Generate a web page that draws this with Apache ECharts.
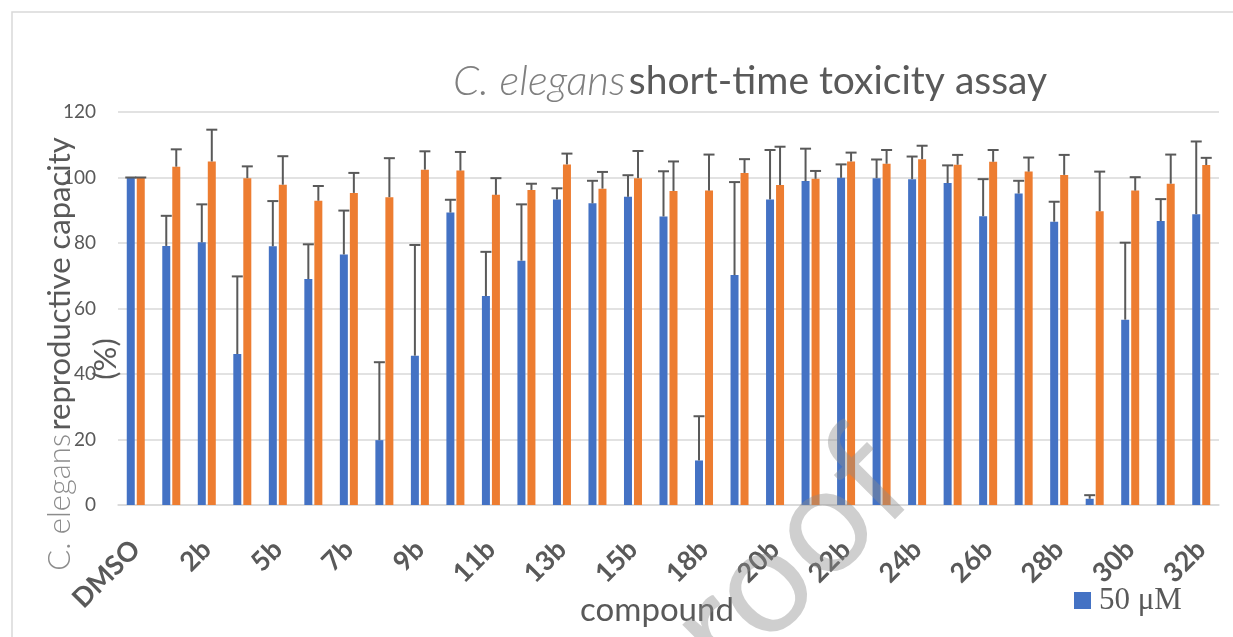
<!DOCTYPE html>
<html><head><meta charset="utf-8">
<script src="https://cdn.jsdelivr.net/npm/echarts@6/dist/echarts.min.js"></script>
<style>html,body{margin:0;padding:0;background:#fff}#c{width:1233px;height:637px}</style>
</head><body><div id="c"></div>
<script>
const categories = ['DMSO','1b','2b','4b','5b','6b','7b','8b','9b','10b','11b','12b','13b','14b','15b','16b','18b','19b','20b','21b','22b','23b','24b','25b','26b','27b','28b','29b','30b','31b','32b'];
const seriesNames = ['50 μM', '100 μM'];
const blue = [100, 79.1, 80.2, 46.1, 79.0, 69.0, 76.5, 19.8, 45.6, 89.3, 63.8, 74.6, 93.3, 92.1, 94.1, 88.1, 13.6, 70.2, 93.3, 98.9, 99.9, 99.8, 99.5, 98.3, 88.2, 95.1, 86.5, 1.9, 56.6, 86.7, 88.8];
const blueErr = [0, 9.2, 11.6, 23.7, 13.8, 10.6, 13.4, 23.8, 33.8, 3.9, 13.5, 17.2, 3.4, 6.9, 6.6, 13.8, 13.5, 28.4, 15.1, 9.9, 4.1, 5.7, 6.9, 5.4, 11.3, 3.9, 6.1, 1.1, 23.5, 6.7, 22.2];
const orange = [100, 103.3, 104.9, 99.8, 97.8, 92.9, 95.3, 94.0, 102.4, 102.1, 94.7, 96.2, 104.0, 96.6, 99.8, 95.9, 96.0, 101.4, 97.7, 99.6, 104.9, 104.2, 105.6, 103.9, 104.8, 101.8, 100.8, 89.7, 96.0, 98.1, 103.8];
const orangeErr = [0, 5.3, 9.7, 3.6, 8.7, 4.5, 6.1, 11.9, 5.6, 5.7, 5.1, 1.9, 3.3, 5.1, 8.3, 9.0, 11.0, 4.2, 11.7, 2.4, 2.7, 4.2, 4.1, 3.0, 3.6, 4.3, 6.1, 12.1, 4.1, 8.9, 2.2];
const yMin = 0, yMax = 120, yStep = 20;
const titleItalic = 'C. elegans';
const titleRest = 'short-time toxicity assay';
const yNameItalic = 'C. elegans';
const yNameRest = 'reproductive capacity';
const yNameLine2 = '(%)';
const xName = 'compound';
const watermark = 'Journal Pre-proof';

const colors = ['#4472C4', '#ED7D31'];
const BAR_W = 8, OFFSET = 5;

function errSeries(vals, errs, off) {
  return {
    type: 'custom',
    coordinateSystem: 'cartesian2d',
    encode: { x: 0, y: 1 },
    z: 5,
    silent: true,
    data: categories.map((c, i) => [i, vals[i], errs[i]]),
    renderItem: function (params, api) {
      const i = api.value(0), v = api.value(1), e = api.value(2);
      const p0 = api.coord([i, v]);
      const p1 = api.coord([i, v + e]);
      const cx = p0[0] + off;
      const st = { stroke: '#595959', lineWidth: 2 };
      return { type: 'group', children: [
        { type: 'line', shape: { x1: cx, y1: p0[1], x2: cx, y2: p1[1] }, style: st },
        { type: 'line', shape: { x1: cx - 5.5, y1: p1[1], x2: cx + 5.5, y2: p1[1] }, style: st }
      ]};
    }
  };
}

const chart = echarts.init(document.getElementById('c'), null, { renderer: 'canvas' });
chart.setOption({
  backgroundColor: '#fff',
  animation: false,
  grid: { left: 118, right: 14, top: 112, bottom: 132, containLabel: false },
  legend: {
    data: [seriesNames[0]],
    left: 1074, top: 585, padding: 0,
    itemWidth: 17, itemHeight: 17,
    icon: 'rect',
    textStyle: { fontFamily: 'Liberation Serif', fontSize: 31, color: '#595959', padding: [0, 0, 0, 3] }
  },
  xAxis: {
    type: 'category',
    data: categories,
    axisLine: { show: true, lineStyle: { color: '#d9d9d9', width: 1.5 } },
    axisTick: { show: false },
    axisLabel: {
      interval: 1, rotate: 45, margin: 40,
      fontFamily: 'Lato', fontWeight: 'bold', fontSize: 27, color: '#595959'
    }
  },
  yAxis: {
    type: 'value', min: yMin, max: yMax, interval: yStep,
    axisLine: { show: false }, axisTick: { show: false },
    splitLine: { lineStyle: { color: '#d9d9d9', width: 1.5 } },
    axisLabel: { fontFamily: 'Lato', fontSize: 19, color: '#595959', margin: 22 }
  },
  series: [
    { name: seriesNames[0], type: 'bar', data: blue, barWidth: BAR_W, barGap: '25%', itemStyle: { color: colors[0] } },
    { name: seriesNames[1], type: 'bar', data: orange, barWidth: BAR_W, barGap: '25%', itemStyle: { color: colors[1] } },
    errSeries(blue, blueErr, -OFFSET),
    errSeries(orange, orangeErr, OFFSET)
  ],
  graphic: [
    { type: 'rect', shape: { x: 12, y: 12, width: 1400, height: 800 }, style: { fill: 'none', stroke: '#d9d9d9', lineWidth: 1.5 }, z: 0 },
    { type: 'text', x: 750, y: 81, z: 10,
      style: { text: '{a|' + titleItalic + '} {b|' + titleRest + '}', align: 'center', verticalAlign: 'middle',
        rich: {
          a: { fontFamily: 'Lato', fontWeight: 300, fontStyle: 'italic', fontSize: 42, fill: '#7f7f7f' },
          b: { fontFamily: 'Lato', fontSize: 39, fill: '#595959' }
        } } },
    { type: 'text', x: 60, y: 354, rotation: Math.PI / 2, z: 10,
      style: { text: '{a|' + yNameItalic + '} {b|' + yNameRest + '}', align: 'center', verticalAlign: 'middle',
        rich: {
          a: { fontFamily: 'Lato', fontWeight: 300, fontSize: 31, fill: '#8c8c8c' },
          b: { fontFamily: 'Lato', fontSize: 31, fill: '#595959' }
        } } },
    { type: 'text', x: 106, y: 359, rotation: Math.PI / 2, z: 10,
      style: { text: yNameLine2, align: 'center', verticalAlign: 'middle', fontFamily: 'Lato', fontSize: 31, fill: '#595959' } },
    { type: 'text', x: 657, y: 610, z: 10,
      style: { text: xName, align: 'center', verticalAlign: 'middle', fontFamily: 'Lato', fontSize: 33, fill: '#595959' } },
    { type: 'text', x: 940, y: 512, rotation: Math.PI / 4, z: 100, silent: true,
      style: { text: watermark, align: 'right', verticalAlign: 'bottom', fontFamily: 'Lato', fontSize: 150, fill: 'rgba(140,140,140,0.42)' } }
  ]
});
</script>
</body></html>
